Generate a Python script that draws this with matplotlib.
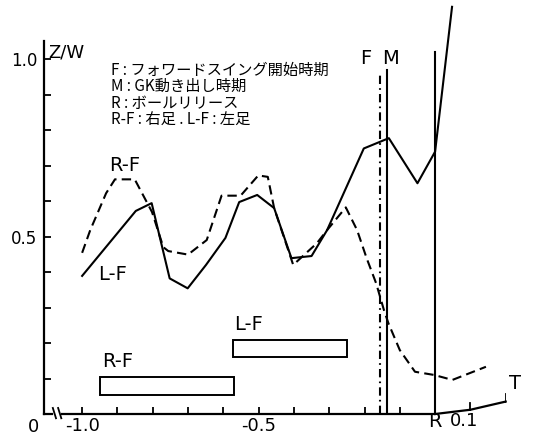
import numpy as np
import matplotlib
matplotlib.use('Agg')
import matplotlib.pyplot as plt

plt.rcParams['font.family'] = ['Noto Sans CJK JP', 'DejaVu Sans']

# ---- data (time T in s, Z/W) ----
lf_t = [-1.00, -0.848, -0.803, -0.752, -0.701, -0.649, -0.594, -0.555, -0.504,
        -0.456, -0.407, -0.350, -0.306, -0.202, -0.131, -0.050, 0.0, 0.048]
lf_z = [0.389, 0.572, 0.594, 0.382, 0.354, 0.420, 0.496, 0.597, 0.617,
        0.580, 0.439, 0.445, 0.518, 0.748, 0.777, 0.650, 0.739, 1.147]

rf_t = [-1.00, -0.977, -0.932, -0.907, -0.851, -0.802, -0.770, -0.756, -0.700,
        -0.647, -0.605, -0.551, -0.501, -0.474, -0.456, -0.402, -0.335, -0.306,
        -0.253, -0.221, -0.194, -0.167, -0.145, -0.132, -0.100, -0.057, -0.003,
        0.049, 0.144]
rf_z = [0.454, 0.518, 0.622, 0.661, 0.661, 0.569, 0.470, 0.459, 0.449,
        0.490, 0.615, 0.615, 0.672, 0.668, 0.580, 0.420, 0.481, 0.518,
        0.582, 0.518, 0.439, 0.368, 0.293, 0.255, 0.180, 0.119, 0.110,
        0.096, 0.133]

# stance phases (foot on ground)
bar_names = ['R-F', 'L-F']
bar_start = [-0.949, -0.573]
bar_end = [-0.569, -0.250]
bar_lo = [0.053, 0.160]
bar_hi = [0.103, 0.208]

# event times: F (forward swing), M (GK starts), R (release)
event_names = ['F', 'M', 'R']
event_t = [-0.156, -0.135, 0.0]
event_top = [0.963, 0.969, 1.02]

legend_lines = ['F : フォワードスイング開始時期',
                'M : GK動き出し時期',
                'R : ボールリリース',
                'R-F : 右足 . L-F : 左足']

x_ticks = [-1.0, -0.9, -0.8, -0.7, -0.6, -0.5, -0.4, -0.3, -0.2, -0.1]
x_ticklabels = ['-1.0', '', '', '', '', '-0.5', '', '', '', '']
y_ticks = [0.1, 0.2, 0.3, 0.4, 0.5, 0.6, 0.7, 0.8, 0.9, 1.0]
y_ticklabels = ['', '', '', '', '0.5', '', '', '', '', '1.0']

# ---- figure ----
W, H = 533, 441
fig = plt.figure(figsize=(W / 100, H / 100), dpi=100)
ax = fig.add_axes([44 / W, 27 / H, 461.7 / W, 372.75 / H])
ax.set_xlim(-1.108, 0.2)
ax.set_ylim(0, 1.05)

for s in ['top', 'right']:
    ax.spines[s].set_visible(False)
ax.spines['left'].set_linewidth(1.6)
ax.spines['bottom'].set_linewidth(1.6)
ax.spines['bottom'].set_bounds(-1.057, 0.0)

ax.set_xticks(x_ticks)
ax.set_xticklabels(x_ticklabels, fontsize=13, family='DejaVu Sans')
ax.set_yticks(y_ticks)
ax.set_yticklabels(y_ticklabels, fontsize=12, family='DejaVu Sans')
ax.tick_params(axis='both', direction='in', length=5, width=1.3, colors='black')
ax.tick_params(axis='x', pad=2)
ax.tick_params(axis='y', pad=5)

# axis break near the origin
ax.plot([-1.108, -1.085], [0, 0], color='black', lw=1.6, clip_on=False)
ax.plot([-1.083, -1.074], [0.017, -0.012], color='black', lw=1.3, clip_on=False)
ax.plot([-1.068, -1.059], [0.017, -0.012], color='black', lw=1.3, clip_on=False)

# time axis after release, bending slightly upward
ax.plot([0.0, 0.1, 0.2], [0.0, 0.012, 0.035], color='black', lw=1.6, clip_on=False)
for tx, ty in [(0.1, 0.012), (0.2, 0.035)]:
    ax.plot([tx, tx], [ty, ty + 0.02], color='black', lw=1.3)

# curves
ax.plot(lf_t, lf_z, color='black', lw=1.5, clip_on=False)
ax.plot(rf_t, rf_z, color='black', lw=1.5, dashes=(4.5, 2.5))

# stance bars
for i, name in enumerate(bar_names):
    ax.barh((bar_lo[i] + bar_hi[i]) / 2, bar_end[i] - bar_start[i],
            height=bar_hi[i] - bar_lo[i], left=bar_start[i],
            facecolor='white', edgecolor='black', lw=1.4)
    ax.text(bar_start[i] + 0.005, bar_hi[i] + 0.018, name, fontsize=14,
            ha='left', va='bottom', family='DejaVu Sans')

# event lines
ax.plot([event_t[0], event_t[0]], [0, event_top[0]], color='black', lw=1.5,
        dashes=(4, 2, 0.8, 2))
ax.plot([event_t[1], event_t[1]], [0, event_top[1]], color='black', lw=1.5)
ax.plot([event_t[2], event_t[2]], [0, event_top[2]], color='black', lw=1.5)
ax.text(event_t[0] - 0.04, 1.0, event_names[0], fontsize=14, ha='center',
        va='center', family='DejaVu Sans')
ax.text(event_t[1] + 0.01, 1.0, event_names[1], fontsize=14, ha='center',
        va='center', family='DejaVu Sans')

# curve labels
ax.text(-0.878, 0.70, 'R-F', fontsize=14, ha='center', va='center', family='DejaVu Sans')
ax.text(-0.915, 0.394, 'L-F', fontsize=14, ha='center', va='center', family='DejaVu Sans')

# legend block
for i, line in enumerate(legend_lines):
    ax.text(-0.917, 0.969 - i * 0.047, line, fontsize=11, ha='left', va='center')

# axis annotations
ax.text(-1.045, 1.017, 'Z/W', fontsize=13, ha='center', va='center', family='DejaVu Sans')
ax.text(-1.139, -0.037, '0', fontsize=13, ha='center', va='center',
        family='DejaVu Sans', clip_on=False)
ax.text(0.0, -0.02, 'R', fontsize=14, ha='center', va='center', family='DejaVu Sans')
ax.text(0.082, -0.02, '0.1', fontsize=13, ha='center', va='center', family='DejaVu Sans')
ax.text(0.227, 0.087, 'T', fontsize=14, ha='center', va='center',
        family='DejaVu Sans', clip_on=False)

fig.savefig('out.png', dpi=100)
